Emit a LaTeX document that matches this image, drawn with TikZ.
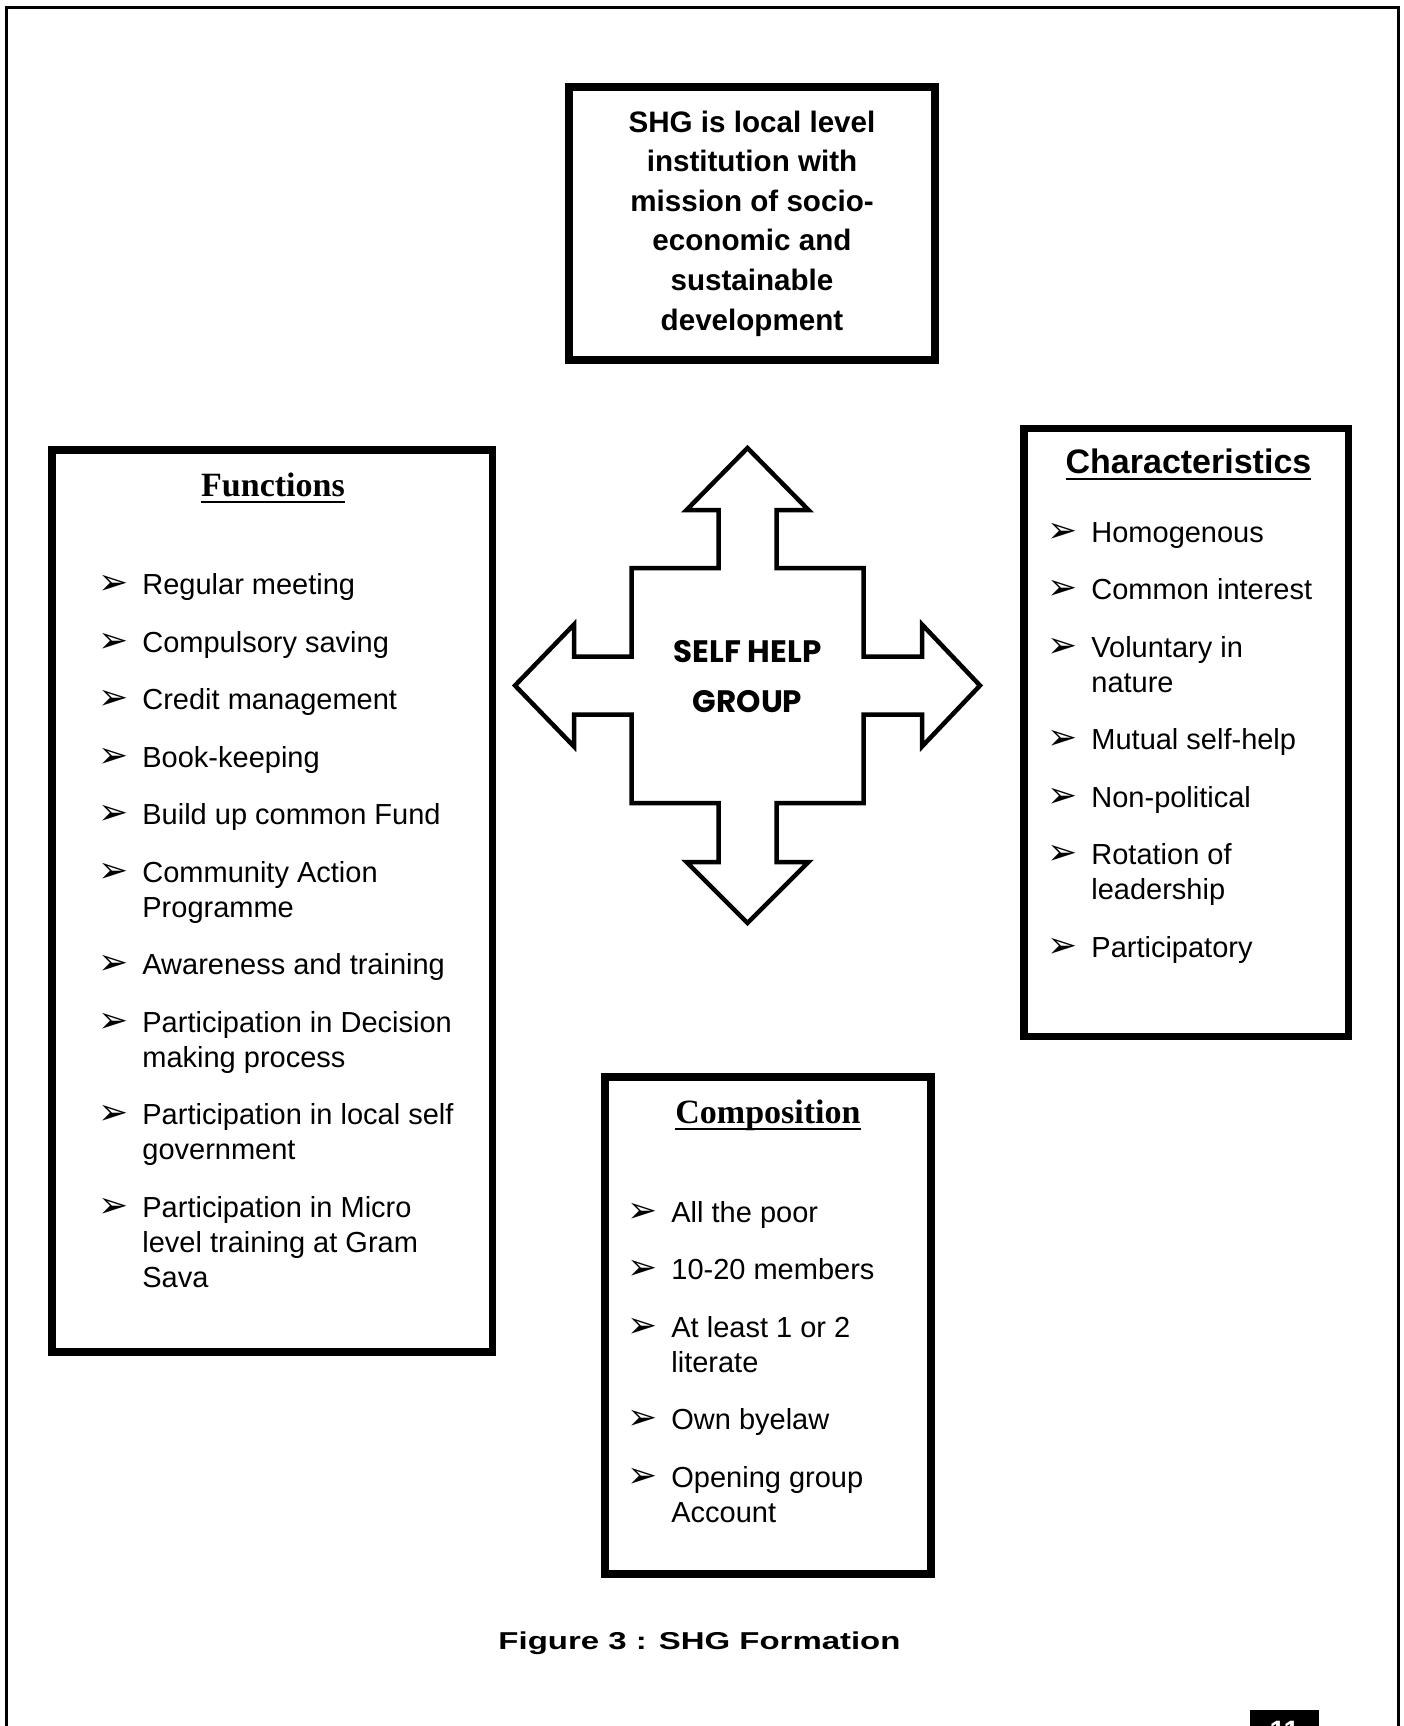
\documentclass[tikz,border=0pt]{standalone}
\usepackage{fontspec}
\setmainfont{Liberation Sans}
\newfontfamily\serifhead{Liberation Serif}
\newfontfamily\arrowfont{DejaVu Sans}
\newfontfamily\gothicfont{Poppins}
\newfontfamily\widefont[FakeStretch=1.35]{Liberation Sans}
\usetikzlibrary{positioning}

\newcommand{\itembul}{\makebox[22pt][l]{\arrowfont\fontsize{18}{18}\selectfont ➢}}
\newcommand{\itemind}{\hspace*{22pt}}
\newcommand{\headul}[1]{\setbox0\hbox{#1}\rlap{\rule[-3.25pt]{\wd0}{1pt}}#1}

\begin{document}
\begin{tikzpicture}[
    x=0.5pt, y=-0.5pt,
    box/.style={rectangle, draw, line width=3.75pt},
    heading/.style={anchor=base, font=\fontsize{17}{20}\selectfont\bfseries},
    serifheading/.style={anchor=base, font=\serifhead\fontsize{17}{20}\selectfont\bfseries},
    list/.style={anchor=base west, align=left, inner sep=0pt, font=\fontsize{14.5}{17.5}\selectfont},
    frame/.style={line width=1.5pt},
    cross/.style={draw, line width=2.25pt, line join=miter}
]
    \clip (0,0) rectangle (1404,1726);

    % page frame
    \draw[frame] (6.5,1760) -- (6.5,7) -- (1398,7) -- (1398,1760);

    % Mission
    \node[box, minimum width=183pt, minimum height=136.5pt, align=center,
          font=\fontsize{14.8}{19.8}\selectfont\bfseries] (mission) at (752,223.5)
        {SHG is local level\\institution with\\mission of socio-\\economic and\\sustainable\\development};

    % Self help group cross
    \draw[cross] (747.5,448) -- (808.5,510) -- (776.5,510) -- (776.5,568) -- (863.5,568)
        -- (863.5,656.5) -- (922,656.5) -- (922,624.5) -- (980,685.5) -- (922,746.5)
        -- (922,714.5) -- (863.5,714.5) -- (863.5,803) -- (776.5,803) -- (776.5,862)
        -- (808.5,862) -- (747.5,923) -- (686.5,862) -- (718.5,862) -- (718.5,803)
        -- (631.5,803) -- (631.5,714.5) -- (574,714.5) -- (574,746.5) -- (515,685.5)
        -- (574,624.5) -- (574,656.5) -- (631.5,656.5) -- (631.5,568) -- (718.5,568)
        -- (718.5,510) -- (686.5,510) -- cycle;
    \node[anchor=base, align=center, font=\gothicfont\bfseries\fontsize{15.5}{25}\selectfont] (shg) at (747.5,712)
        {SELF HELP\\GROUP};

    % Functions
    \node[box, minimum width=220.25pt, minimum height=451pt] (funcbox) at (272.25,901) {};
    \node[serifheading] (functitle) at (273,496) {\headul{Functions}};
    \node[list] (funclist) at (98,1287) {%
        \itembul Regular meeting\\[11.25pt]
        \itembul Compulsory saving\\[11.25pt]
        \itembul Credit management\\[11.25pt]
        \itembul Book-keeping\\[11.25pt]
        \itembul Build up common Fund\\[11.25pt]
        \itembul Community Action\\ \itemind Programme\\[11.25pt]
        \itembul Awareness and training\\[11.25pt]
        \itembul Participation in Decision\\ \itemind making process\\[11.25pt]
        \itembul Participation in local self\\ \itemind government\\[11.25pt]
        \itembul Participation in Micro\\ \itemind level training at Gram\\ \itemind Sava};

    % Characteristics
    \node[box, minimum width=162.25pt, minimum height=304pt] (charbox) at (1186.25,732.5) {};
    \node[heading] (chartitle) at (1188.5,473) {\headul{Characteristics}};
    \node[list] (charlist) at (1047,957) {%
        \itembul Homogenous\\[11.25pt]
        \itembul Common interest\\[11.25pt]
        \itembul Voluntary in\\ \itemind nature\\[11.25pt]
        \itembul Mutual self-help\\[11.25pt]
        \itembul Non-political\\[11.25pt]
        \itembul Rotation of\\ \itemind leadership\\[11.25pt]
        \itembul Participatory};

    % Composition
    \node[box, minimum width=163pt, minimum height=248.5pt] (compbox) at (768,1325.5) {};
    \node[serifheading] (comptitle) at (768,1123) {\headul{Composition}};
    \node[list] (complist) at (627,1522) {%
        \itembul All the poor\\[11.25pt]
        \itembul 10-20 members\\[11.25pt]
        \itembul At least 1 or 2\\ \itemind literate\\[11.25pt]
        \itembul Own byelaw\\[11.25pt]
        \itembul Opening group\\ \itemind Account};

    % Caption and page number
    \node[anchor=base, font=\widefont\bfseries\fontsize{12.2}{14}\selectfont] (caption) at (699.5,1649)
        {Figure 3 : SHG Formation};
    \node[anchor=north, fill=black, text=white, inner sep=0pt, minimum width=34.5pt, minimum height=20pt,
          font=\bfseries\fontsize{14}{14}\selectfont] (pagenum) at (1284.5,1710) {11};
\end{tikzpicture}
\end{document}
